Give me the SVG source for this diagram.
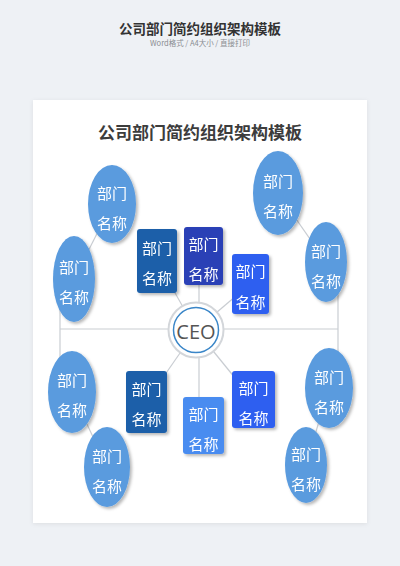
<svg xmlns="http://www.w3.org/2000/svg" width="400" height="566" viewBox="0 0 400 566">
<style>
.cjk{font-family:"Noto Sans CJK SC","Noto Sans",sans-serif}
.lbl{font-size:15px;fill:#ffffff;text-anchor:middle;dominant-baseline:central}
.ell{fill:#5a9bde}
.ln{stroke:#c9cdd2;stroke-width:1.2;fill:none}
</style>
<defs>
<filter id="sh" x="-30%" y="-30%" width="160%" height="160%">
<feDropShadow dx="2" dy="2" stdDeviation="1.6" flood-color="#000" flood-opacity="0.28"/>
</filter>
<filter id="cs" x="-10%" y="-10%" width="120%" height="120%">
<feDropShadow dx="0" dy="1" stdDeviation="2" flood-color="#000" flood-opacity="0.08"/>
</filter>
</defs>
<rect width="400" height="566" fill="#eef1f5"/>
<text class="cjk" x="200" y="34" font-size="13.5" font-weight="bold" fill="#333" text-anchor="middle">公司部门简约组织架构模板</text>
<text class="cjk" x="200" y="45.5" font-size="7.5" fill="#8a8d92" text-anchor="middle">Word格式 / A4大小 / 直接打印</text>
<rect x="33" y="100" width="334" height="423" fill="#ffffff" filter="url(#cs)"/>
<text class="cjk" x="200" y="139" font-size="17" font-weight="bold" fill="#3c3c3c" text-anchor="middle">公司部门简约组织架构模板</text>

<g id="connectors">
<line class="ln" x1="60" y1="329" x2="338" y2="329"/>
<line class="ln" x1="60" y1="290" x2="60" y2="370"/>
<line class="ln" x1="338" y1="285" x2="338" y2="365"/>
<line class="ln" x1="112" y1="204" x2="74" y2="279"/>
<line class="ln" x1="278" y1="193" x2="326" y2="262"/>
<line class="ln" x1="72" y1="392" x2="107" y2="467"/>
<line class="ln" x1="329" y1="388" x2="306" y2="465"/>
<line class="ln" x1="157" y1="261" x2="196" y2="330"/>
<line class="ln" x1="199" y1="256" x2="199" y2="330"/>
<line class="ln" x1="250" y1="284" x2="196" y2="330"/>
<line class="ln" x1="146" y1="402" x2="196" y2="330"/>
<line class="ln" x1="199" y1="330" x2="199" y2="425"/>
<line class="ln" x1="253" y1="400" x2="196" y2="330"/>
</g>

<g id="ceo">
<circle cx="196" cy="330" r="27.5" fill="#ffffff" stroke="#d3d6da" stroke-width="2"/>
<circle cx="196" cy="330" r="22.5" fill="#ffffff" stroke="#3a86c8" stroke-width="1.5"/>
<text x="196" y="331" font-family="'Open Sans',sans-serif" font-size="20" fill="#555" text-anchor="middle" dominant-baseline="central">CEO</text>
</g>

<g id="e1" filter="url(#sh)"><ellipse class="ell" cx="112" cy="204" rx="24" ry="39"/><text class="cjk lbl" x="112" y="192">部门</text><text class="cjk lbl" x="112" y="222">名称</text></g>
<g id="e2" filter="url(#sh)"><ellipse class="ell" cx="74" cy="279" rx="21" ry="43"/><text class="cjk lbl" x="74" y="266">部门</text><text class="cjk lbl" x="74" y="296">名称</text></g>
<g id="e3" filter="url(#sh)"><ellipse class="ell" cx="278" cy="193" rx="25" ry="42"/><text class="cjk lbl" x="278" y="180">部门</text><text class="cjk lbl" x="278" y="210">名称</text></g>
<g id="e4" filter="url(#sh)"><ellipse class="ell" cx="326" cy="262" rx="21" ry="40"/><text class="cjk lbl" x="326" y="250">部门</text><text class="cjk lbl" x="326" y="280">名称</text></g>
<g id="e5" filter="url(#sh)"><ellipse class="ell" cx="72" cy="392" rx="24" ry="41"/><text class="cjk lbl" x="72" y="379">部门</text><text class="cjk lbl" x="72" y="409">名称</text></g>
<g id="e6" filter="url(#sh)"><ellipse class="ell" cx="107" cy="467" rx="23" ry="40"/><text class="cjk lbl" x="107" y="455">部门</text><text class="cjk lbl" x="107" y="485">名称</text></g>
<g id="e7" filter="url(#sh)"><ellipse class="ell" cx="329" cy="388" rx="24" ry="40"/><text class="cjk lbl" x="329" y="376">部门</text><text class="cjk lbl" x="329" y="406">名称</text></g>
<g id="e8" filter="url(#sh)"><ellipse class="ell" cx="306" cy="465" rx="21" ry="38"/><text class="cjk lbl" x="306" y="453">部门</text><text class="cjk lbl" x="306" y="483">名称</text></g>

<g id="r1" filter="url(#sh)"><rect x="137" y="229" width="40" height="64" rx="3" fill="#1a5fa9"/><text class="cjk lbl" x="157" y="247">部门</text><text class="cjk lbl" x="157" y="277">名称</text></g>
<g id="r2" filter="url(#sh)"><rect x="184" y="227" width="39" height="58" rx="3" fill="#2a40b6"/><text class="cjk lbl" x="203.5" y="243">部门</text><text class="cjk lbl" x="203.5" y="273">名称</text></g>
<g id="r3" filter="url(#sh)"><rect x="232" y="254" width="37" height="60" rx="3" fill="#2d5ff0"/><text class="cjk lbl" x="250.5" y="270.5">部门</text><text class="cjk lbl" x="250.5" y="301">名称</text></g>
<g id="r4" filter="url(#sh)"><rect x="126" y="371" width="41" height="62" rx="3" fill="#1a5fa9"/><text class="cjk lbl" x="146.5" y="388">部门</text><text class="cjk lbl" x="146.5" y="418">名称</text></g>
<g id="r5" filter="url(#sh)"><rect x="183" y="397" width="41" height="57" rx="3" fill="#4a8cf0"/><text class="cjk lbl" x="203.5" y="413">部门</text><text class="cjk lbl" x="203.5" y="443">名称</text></g>
<g id="r6" filter="url(#sh)"><rect x="232" y="371" width="43" height="57" rx="3" fill="#2d5ff0"/><text class="cjk lbl" x="253.5" y="387">部门</text><text class="cjk lbl" x="253.5" y="417">名称</text></g>
</svg>
